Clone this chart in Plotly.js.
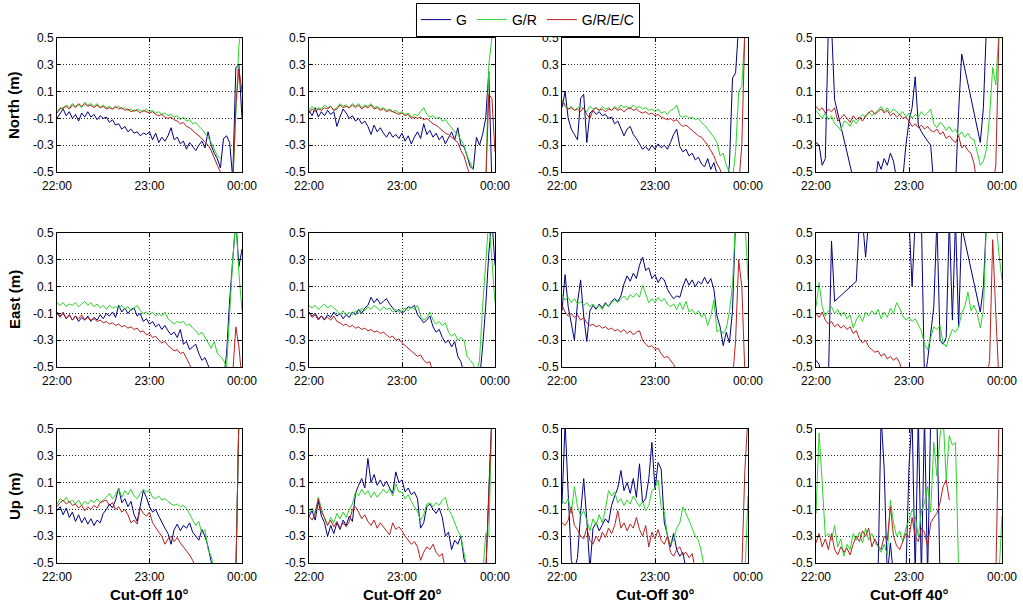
<!DOCTYPE html>
<html><head><meta charset="utf-8">
<script src="https://cdn.plot.ly/plotly-3.0.1.min.js"></script>
<style>html,body{margin:0;padding:0;background:#fff}#chart{width:1023px;height:604px}</style>
</head><body><div id="chart"></div>
<script>
// time in minutes after 22:00
const T = [0,2,4,6,8,10,12,14,16,18,20,22,24,26,28,30,32,34,36,38,40,42,44,46,48,50,52,54,56,58,60,62,64,66,68,70,72,74,76,78,80,82,84,86,88,90,92,94,96,98,100,102,104,106,108,110,112,114,116,118,120];

const SERIES = ['G','G/R','G/R/E/C'];
const COLORS = ['#000080','#2ad42a','#b82020'];
const ROW_TITLES = ['North (m)','East (m)','Up (m)'];
const COL_TITLES = ['Cut-Off 10°','Cut-Off 20°','Cut-Off 30°','Cut-Off 40°'];
const X_TICKS = [0,60,120];
const X_TICK_TEXT = ['22:00','23:00','00:00'];
const Y_TICKS = [-0.5,-0.3,-0.1,0.1,0.3,0.5];
const Y_TICK_TEXT = ['-0.5','-0.3','-0.1','0.1','0.3','0.5'];

// ---------- North ----------
const N10_G = [-0.10,-0.06,-0.03,-0.08,-0.05,-0.10,-0.07,-0.12,-0.06,-0.09,
-0.05,-0.09,-0.07,-0.11,-0.08,-0.10,-0.09,-0.13,-0.11,-0.15,
-0.14,-0.18,-0.16,-0.20,-0.18,-0.21,-0.20,-0.23,-0.21,-0.22,
-0.20,-0.26,-0.21,-0.28,-0.24,-0.27,-0.23,-0.17,-0.26,-0.24,
-0.29,-0.27,-0.33,-0.28,-0.31,-0.34,-0.30,-0.27,-0.32,-0.20,
-0.30,-0.36,-0.40,-0.47,-0.25,-0.23,-0.28,-0.55,0.28,0.30,
-0.10];
const N10_GR = [-0.05,-0.02,-0.03,0.00,-0.02,0.01,-0.01,0.00,-0.02,0.02,
0.00,0.01,-0.01,0.01,-0.02,0.00,-0.02,-0.01,-0.03,-0.02,
-0.01,-0.03,-0.02,-0.04,-0.03,-0.05,-0.03,-0.04,-0.05,-0.03,
-0.05,-0.04,-0.06,-0.05,-0.07,-0.06,-0.08,-0.07,-0.09,-0.08,
-0.11,-0.09,-0.12,-0.11,-0.14,-0.13,-0.16,-0.18,-0.21,-0.24,
-0.28,-0.33,-0.38,-0.40,null,null,null,-0.60,-0.10,0.45,
0.60];
const N10_GREC = [-0.06,-0.03,-0.02,-0.01,-0.03,0.00,-0.02,0.01,-0.01,0.01,
-0.01,0.00,-0.02,0.00,-0.02,-0.01,-0.03,-0.02,-0.03,-0.01,
-0.03,-0.02,-0.04,-0.03,-0.05,-0.04,-0.04,-0.06,-0.04,-0.05,
-0.06,-0.05,-0.07,-0.08,-0.07,-0.09,-0.10,-0.09,-0.11,-0.12,
-0.14,-0.13,-0.16,-0.17,-0.19,-0.21,-0.23,-0.25,-0.28,-0.30,
-0.34,-0.40,-0.45,-0.50,-0.60,-0.60,-0.60,-0.60,0.00,0.27,
0.10];

const N20_G = [-0.04,-0.08,-0.02,-0.09,-0.05,-0.08,-0.04,-0.07,-0.05,-0.16,
-0.09,-0.03,-0.06,-0.10,-0.08,-0.12,-0.10,-0.14,-0.12,-0.16,
-0.22,-0.15,-0.20,-0.17,-0.21,-0.24,-0.20,-0.24,-0.22,-0.25,
-0.21,-0.27,-0.23,-0.29,-0.24,-0.20,-0.25,-0.14,-0.22,-0.19,
-0.24,-0.21,-0.26,-0.23,-0.29,-0.24,-0.20,-0.26,-0.17,-0.30,
-0.31,-0.38,-0.46,-0.48,-0.24,-0.30,-0.22,-0.10,0.25,-0.60,
-0.60];
const N20_GR = [-0.04,-0.01,-0.04,-0.02,-0.03,0.00,-0.02,-0.01,-0.04,-0.02,
0.01,-0.01,0.00,-0.02,0.01,-0.01,0.01,-0.02,0.00,-0.01,
0.01,-0.02,-0.01,-0.03,-0.02,-0.04,-0.03,-0.05,-0.04,-0.06,
-0.05,-0.07,-0.06,-0.09,-0.07,-0.08,-0.05,-0.02,-0.07,-0.09,
-0.08,-0.10,-0.09,-0.12,-0.11,-0.14,-0.17,-0.20,-0.22,-0.26,
-0.30,-0.38,-0.43,-0.48,null,null,null,-0.60,0.30,0.50,
0.60];
const N20_GREC = [-0.06,-0.03,-0.05,-0.03,-0.04,-0.02,-0.03,-0.01,-0.04,-0.03,
0.00,-0.02,-0.01,-0.02,0.00,-0.02,0.00,-0.03,-0.01,-0.02,
0.00,-0.03,-0.02,-0.04,-0.03,-0.05,-0.04,-0.05,-0.06,-0.07,
-0.06,-0.08,-0.07,-0.10,-0.09,-0.10,-0.09,-0.11,-0.10,-0.12,
-0.14,-0.15,-0.17,-0.19,-0.21,-0.22,-0.24,-0.26,-0.28,-0.34,
-0.38,-0.46,-0.52,-0.60,-0.60,-0.60,-0.60,-0.60,0.08,0.05,
-0.35];

const N30_G = [-0.02,0.10,-0.10,-0.18,-0.22,-0.26,0.05,0.08,-0.28,-0.06,
-0.04,-0.07,-0.05,-0.08,-0.07,-0.10,-0.09,-0.14,-0.12,-0.17,
-0.23,-0.18,-0.16,-0.22,-0.25,-0.29,-0.33,-0.31,-0.34,-0.30,
-0.33,-0.29,-0.32,-0.30,-0.33,-0.28,-0.22,-0.18,-0.31,-0.35,
-0.33,-0.38,-0.36,-0.41,-0.39,-0.44,-0.46,-0.40,-0.48,-0.43,
-0.52,-0.60,-0.60,-0.60,-0.45,0.20,0.24,0.60,0.60,0.60,
0.60];
const N30_GR = [0.04,0.00,-0.03,-0.01,-0.04,-0.02,-0.01,-0.03,-0.05,-0.01,
-0.03,-0.02,-0.04,-0.01,-0.03,-0.02,-0.04,-0.01,-0.03,0.00,
-0.02,-0.01,-0.03,0.00,-0.02,-0.01,-0.03,-0.02,-0.04,-0.03,
-0.05,-0.03,-0.06,-0.05,-0.07,-0.04,-0.03,0.00,-0.08,-0.09,
-0.08,-0.10,-0.09,-0.11,-0.10,-0.13,-0.15,-0.18,-0.21,-0.24,
-0.28,-0.38,-0.36,-0.45,-0.50,-0.55,-0.35,0.10,0.14,0.55,
0.60];
const N30_GREC = [0.03,-0.01,-0.03,-0.02,-0.04,-0.03,-0.05,-0.02,-0.07,-0.10,
-0.04,-0.02,-0.04,-0.03,-0.05,-0.03,-0.04,-0.02,-0.04,-0.03,
-0.05,-0.03,-0.02,-0.04,-0.03,-0.05,-0.06,-0.05,-0.07,-0.06,
-0.08,-0.07,-0.09,-0.10,-0.11,-0.10,-0.12,-0.11,-0.14,-0.16,
-0.15,-0.17,-0.19,-0.21,-0.23,-0.24,-0.27,-0.30,-0.34,-0.38,
-0.44,-0.48,-0.60,-0.60,-0.60,-0.60,-0.60,-0.60,-0.30,0.55,
0.60];

const N40_G = [-0.28,-0.30,-0.45,-0.40,0.60,0.60,0.04,null,null,null,
null,null,-0.55,-0.60,-0.60,-0.60,-0.60,-0.60,-0.60,-0.60,
-0.42,-0.48,-0.40,-0.45,-0.36,-0.42,-0.55,-0.60,-0.55,-0.30,
-0.12,-0.02,0.21,-0.15,-0.20,-0.24,-0.27,-0.30,-0.60,-0.60,
-0.60,-0.60,-0.60,-0.60,-0.60,-0.60,-0.05,0.38,null,null,
null,null,null,-0.28,-0.02,0.60,null,null,null,null,
null];
const N40_GR = [-0.04,-0.07,-0.10,-0.06,-0.11,-0.08,-0.14,-0.16,-0.19,-0.12,
-0.13,-0.16,-0.11,-0.14,-0.10,-0.07,-0.09,-0.05,-0.08,-0.06,
-0.04,-0.01,-0.05,-0.02,-0.06,-0.03,-0.05,-0.07,-0.05,-0.09,
-0.06,-0.10,-0.07,-0.09,-0.05,-0.08,-0.06,-0.03,-0.14,-0.17,
-0.13,-0.15,-0.19,-0.16,-0.20,-0.18,-0.23,-0.20,-0.24,-0.21,
-0.25,-0.26,-0.35,-0.45,-0.42,-0.33,-0.08,0.28,0.15,0.55,
0.60];
const N40_GREC = [-0.01,-0.04,-0.02,-0.06,-0.03,-0.05,-0.02,-0.12,-0.10,-0.07,
-0.10,-0.13,-0.08,-0.11,-0.09,-0.12,-0.08,-0.06,-0.04,-0.07,
-0.05,-0.03,-0.06,-0.04,-0.08,-0.06,-0.09,-0.07,-0.10,-0.09,
-0.12,-0.16,-0.14,-0.17,-0.15,-0.18,-0.16,-0.19,-0.20,-0.18,
-0.22,-0.20,-0.25,-0.23,-0.26,-0.28,-0.23,-0.32,-0.30,-0.34,
-0.36,-0.44,-0.60,-0.60,-0.60,-0.60,-0.60,-0.60,-0.45,0.50,
0.60];

// ---------- East ----------
const E10_G = [-0.09,-0.12,-0.10,-0.14,-0.11,-0.15,-0.12,-0.16,-0.13,-0.15,
-0.12,-0.16,-0.13,-0.15,-0.11,-0.14,-0.10,-0.12,-0.09,-0.13,
-0.04,-0.09,-0.06,-0.10,-0.07,-0.06,-0.12,-0.10,-0.16,-0.14,
-0.18,-0.16,-0.20,-0.18,-0.22,-0.19,-0.23,-0.26,-0.24,-0.28,
-0.22,-0.33,-0.31,-0.37,-0.35,-0.33,-0.40,-0.45,-0.43,-0.48,
-0.55,-0.60,-0.60,-0.60,-0.60,-0.40,0.00,0.30,0.60,0.25,
0.38];
const E10_GR = [-0.02,-0.04,-0.02,-0.05,-0.03,-0.04,-0.02,-0.05,-0.03,-0.01,
-0.04,-0.02,-0.05,-0.03,-0.06,-0.04,-0.07,-0.04,-0.06,-0.05,
-0.06,-0.04,-0.07,-0.05,-0.08,-0.06,-0.04,-0.08,-0.10,-0.09,
-0.11,-0.09,-0.12,-0.10,-0.12,-0.09,-0.14,-0.16,-0.18,-0.16,
-0.17,-0.16,-0.19,-0.18,-0.21,-0.23,-0.26,-0.24,-0.28,-0.32,
-0.36,-0.31,-0.40,-0.42,-0.45,-0.50,-0.05,0.30,0.60,0.20,
-0.08];
const E10_GREC = [-0.10,-0.13,-0.09,-0.14,-0.11,-0.15,-0.12,-0.14,-0.11,-0.15,
-0.13,-0.15,-0.14,-0.16,-0.15,-0.17,-0.16,-0.18,-0.17,-0.19,
-0.18,-0.20,-0.19,-0.21,-0.20,-0.22,-0.21,-0.24,-0.23,-0.26,
-0.25,-0.28,-0.27,-0.30,-0.32,-0.31,-0.34,-0.36,-0.38,-0.37,
-0.40,-0.39,-0.43,-0.48,-0.55,-0.60,-0.60,-0.60,-0.60,-0.60,
-0.60,-0.60,-0.60,-0.60,-0.60,-0.60,-0.60,-0.55,-0.20,-0.35,
-0.60];

const E20_G = [-0.09,-0.12,-0.10,-0.14,-0.12,-0.15,-0.11,-0.13,-0.09,-0.12,
-0.10,-0.14,-0.11,-0.13,-0.09,-0.11,-0.07,-0.10,-0.06,-0.04,
0.02,-0.02,0.01,-0.03,-0.01,0.01,-0.03,-0.06,-0.09,-0.07,
-0.10,-0.08,-0.05,-0.06,-0.04,-0.11,-0.14,-0.17,-0.15,-0.12,
-0.20,-0.24,-0.22,-0.28,-0.32,-0.30,-0.35,-0.31,-0.42,-0.46,
-0.55,-0.60,-0.60,-0.60,-0.60,-0.60,-0.35,-0.05,0.35,0.60,
0.26];
const E20_GR = [-0.04,-0.06,-0.04,-0.07,-0.05,-0.03,-0.06,-0.04,-0.06,-0.08,
-0.11,-0.08,-0.12,-0.09,-0.11,-0.08,-0.10,-0.06,-0.08,-0.05,
-0.07,-0.04,-0.06,-0.08,-0.05,-0.07,-0.06,-0.09,-0.07,-0.09,
-0.08,-0.06,-0.08,-0.05,-0.07,-0.04,-0.12,-0.15,-0.13,-0.09,
-0.15,-0.18,-0.16,-0.19,-0.17,-0.24,-0.27,-0.25,-0.30,-0.28,
-0.30,-0.42,-0.45,-0.48,-0.55,-0.45,-0.05,0.30,0.60,0.30,
-0.02];
const E20_GREC = [-0.09,-0.13,-0.11,-0.15,-0.12,-0.14,-0.13,-0.15,-0.12,-0.16,
-0.17,-0.19,-0.18,-0.20,-0.19,-0.21,-0.20,-0.22,-0.21,-0.23,
-0.22,-0.24,-0.23,-0.25,-0.24,-0.26,-0.28,-0.27,-0.30,-0.29,
-0.32,-0.34,-0.36,-0.38,-0.40,-0.42,-0.41,-0.45,-0.47,-0.46,
-0.55,-0.60,-0.60,-0.60,-0.60,-0.60,-0.60,-0.60,-0.60,-0.60,
-0.60,-0.60,-0.60,-0.60,-0.60,-0.60,-0.60,-0.60,-0.60,-0.60,
-0.60];

const E30_G = [-0.08,0.19,-0.05,-0.17,-0.30,-0.02,0.15,-0.12,-0.31,-0.08,
-0.04,-0.07,-0.03,-0.06,-0.02,-0.05,-0.01,0.01,-0.01,0.03,
0.12,0.18,0.14,0.20,0.16,0.26,0.32,0.22,0.24,0.16,
0.19,0.13,0.17,0.15,0.08,0.04,0.01,0.03,0.02,0.10,
0.16,0.11,0.15,0.10,0.14,0.12,0.17,0.12,0.16,0.08,
-0.12,-0.20,-0.34,-0.24,-0.32,-0.08,0.60,0.60,0.60,0.60,
0.60];
const E30_GR = [0.04,0.00,0.02,-0.02,0.01,-0.03,-0.01,-0.04,-0.02,-0.05,
-0.03,-0.06,-0.04,-0.07,-0.03,-0.05,-0.02,0.00,-0.02,0.01,
0.03,0.00,0.04,0.02,0.05,0.02,0.11,0.04,-0.02,0.01,
-0.02,0.02,-0.01,0.01,-0.03,-0.05,-0.03,-0.07,-0.02,-0.07,
-0.01,-0.09,-0.07,-0.11,-0.08,-0.13,-0.10,-0.19,-0.12,0.00,
-0.24,-0.22,-0.25,-0.21,-0.09,0.11,0.60,0.60,0.60,0.60,
0.15];
const E30_GREC = [-0.04,-0.09,-0.12,-0.10,-0.13,-0.11,-0.15,-0.13,-0.17,-0.19,
-0.18,-0.20,-0.19,-0.21,-0.20,-0.22,-0.21,-0.23,-0.22,-0.24,
-0.22,-0.25,-0.23,-0.26,-0.24,-0.23,-0.30,-0.33,-0.35,-0.34,
-0.37,-0.36,-0.40,-0.43,-0.42,-0.45,-0.48,-0.55,-0.60,-0.60,
-0.60,-0.60,-0.60,-0.60,-0.60,-0.60,-0.60,-0.60,-0.60,-0.60,
-0.60,-0.60,-0.60,-0.60,-0.60,-0.60,-0.30,0.30,0.10,-0.55,
-0.60];

const E40_G = [-0.45,-0.48,-0.60,-0.60,-0.60,0.44,-0.01,null,null,null,
null,null,null,0.14,0.60,0.60,0.32,0.60,0.60,0.60,
0.60,0.60,0.60,0.60,0.60,0.60,0.60,0.60,0.60,0.60,
0.60,0.10,0.60,0.60,0.60,-0.60,-0.45,-0.25,-0.05,0.60,
-0.30,-0.33,-0.28,0.60,-0.15,0.60,-0.20,0.55,null,null,
null,null,null,-0.09,0.10,0.60,null,null,null,null,
null];
const E40_GR = [-0.05,0.13,-0.05,-0.12,-0.08,-0.05,-0.10,-0.07,-0.12,-0.09,
-0.14,-0.11,-0.21,-0.15,-0.11,-0.16,-0.09,-0.12,-0.08,-0.11,
-0.07,-0.14,-0.09,-0.13,-0.06,-0.10,-0.02,-0.06,-0.12,-0.15,
-0.13,-0.16,-0.14,-0.18,-0.23,-0.33,-0.37,-0.28,-0.20,-0.22,
-0.19,-0.32,-0.35,-0.28,-0.22,-0.24,-0.20,-0.10,-0.05,0.06,
-0.08,-0.04,-0.10,-0.21,-0.08,0.60,0.60,0.60,0.60,0.35,
0.15];
const E40_GREC = [-0.10,-0.13,-0.09,-0.15,-0.18,-0.16,-0.20,-0.18,-0.21,-0.19,
-0.22,-0.20,-0.25,-0.23,-0.29,-0.32,-0.30,-0.35,-0.37,-0.39,
-0.38,-0.42,-0.40,-0.44,-0.42,-0.45,-0.43,-0.47,-0.55,-0.60,
-0.60,-0.60,-0.60,-0.60,-0.60,-0.60,-0.60,-0.60,-0.60,-0.60,
-0.60,-0.60,-0.60,-0.60,-0.60,-0.60,-0.60,-0.60,-0.60,-0.60,
-0.60,-0.60,-0.60,-0.60,-0.60,-0.60,-0.45,0.45,-0.10,-0.60,
-0.60];

// ---------- Up ----------
const U10_G = [-0.11,-0.08,-0.14,-0.09,-0.16,-0.12,-0.19,-0.14,-0.20,-0.16,
-0.21,-0.17,-0.22,-0.18,-0.20,-0.13,-0.10,-0.06,-0.09,-0.03,
0.06,-0.05,-0.02,-0.08,-0.04,-0.14,-0.19,-0.08,0.04,-0.01,
-0.08,-0.12,-0.10,-0.15,-0.20,-0.24,-0.28,-0.36,-0.25,-0.21,
-0.26,-0.22,-0.24,-0.20,-0.27,-0.30,-0.33,-0.25,-0.30,-0.38,
-0.50,-0.60,-0.60,-0.60,-0.60,-0.60,-0.60,-0.60,-0.60,0.60,
0.60];
const U10_GR = [-0.06,-0.02,-0.04,-0.01,-0.05,-0.03,-0.06,-0.03,-0.07,-0.04,
-0.06,-0.03,-0.05,-0.02,-0.05,-0.03,-0.01,0.02,-0.02,0.01,
0.06,-0.01,0.04,0.01,0.05,0.00,-0.02,0.02,0.05,0.03,
0.04,-0.01,-0.02,0.00,-0.03,-0.02,-0.04,-0.06,-0.07,-0.06,
-0.08,-0.07,-0.09,-0.14,-0.18,-0.22,-0.19,-0.28,-0.25,-0.40,
-0.45,-0.55,-0.60,-0.60,-0.60,-0.60,-0.60,-0.60,-0.60,0.60,
0.60];
const U10_GREC = [-0.08,-0.05,-0.03,-0.06,-0.04,-0.07,-0.06,-0.09,-0.07,-0.11,
-0.08,-0.10,-0.07,-0.09,-0.05,-0.04,-0.03,-0.07,-0.05,-0.10,
-0.08,-0.12,-0.10,-0.14,-0.20,-0.18,-0.21,-0.09,-0.13,-0.15,
-0.12,-0.20,-0.24,-0.27,-0.30,-0.36,-0.32,-0.30,-0.34,-0.31,
-0.35,-0.38,-0.41,-0.44,-0.48,-0.55,-0.60,-0.60,-0.60,-0.60,
-0.60,-0.60,-0.60,-0.60,-0.60,-0.60,-0.60,-0.60,-0.60,0.60,
0.60];

const U20_G = [-0.15,-0.11,-0.18,-0.04,-0.15,-0.20,-0.30,-0.22,-0.28,-0.20,
-0.25,-0.18,-0.22,-0.15,-0.19,0.02,0.08,0.13,0.06,0.28,
0.10,0.16,0.08,0.12,0.07,0.11,0.06,0.02,0.18,0.10,
0.12,0.03,0.06,0.01,0.03,-0.02,-0.24,-0.20,-0.08,-0.06,
-0.10,-0.13,-0.09,-0.16,-0.30,-0.27,-0.40,-0.33,-0.36,-0.30,
-0.47,-0.55,-0.60,-0.60,-0.60,-0.60,-0.60,-0.60,0.04,0.60,
0.60];
const U20_GR = [-0.13,-0.09,-0.13,-0.01,-0.09,-0.17,-0.22,-0.16,-0.20,-0.13,
-0.17,-0.12,-0.16,-0.10,-0.06,0.03,0.00,0.05,0.01,0.04,
-0.01,0.03,-0.01,0.02,0.05,0.02,0.05,0.00,0.09,0.03,
0.03,-0.02,0.01,-0.04,-0.08,-0.12,-0.18,-0.14,-0.06,-0.05,
-0.08,-0.05,-0.07,-0.03,-0.01,-0.10,-0.14,-0.20,-0.26,-0.30,
-0.45,-0.55,-0.60,-0.60,-0.60,-0.60,-0.60,-0.28,-0.30,0.60,
0.60];
const U20_GREC = [-0.15,-0.18,-0.13,-0.02,-0.12,-0.16,-0.22,-0.18,-0.23,-0.19,
-0.24,-0.20,-0.23,-0.19,-0.10,-0.08,-0.12,-0.17,-0.14,-0.19,
-0.22,-0.18,-0.24,-0.20,-0.23,-0.26,-0.29,-0.20,-0.25,-0.23,
-0.26,-0.30,-0.33,-0.36,-0.34,-0.38,-0.48,-0.42,-0.38,-0.40,
-0.36,-0.42,-0.45,-0.43,-0.55,-0.60,-0.60,-0.60,-0.60,-0.60,
-0.60,-0.60,-0.60,-0.60,-0.60,-0.60,-0.60,-0.60,0.00,0.60,
0.60];

const U30_G = [-0.06,0.55,0.02,-0.48,-0.55,-0.46,-0.13,0.13,-0.18,-0.55,
-0.24,-0.20,-0.26,-0.22,-0.17,-0.20,-0.07,0.00,0.06,0.19,
0.04,0.10,0.02,0.13,-0.01,0.24,-0.05,-0.02,0.13,0.40,
0.05,0.25,0.20,-0.20,-0.30,-0.38,-0.28,-0.40,-0.45,-0.42,
-0.55,-0.60,-0.60,-0.60,-0.60,-0.60,-0.60,-0.60,-0.60,-0.60,
-0.60,-0.60,-0.60,-0.60,-0.60,-0.60,-0.60,-0.60,-0.60,-0.60,
-0.60];
const U30_GR = [-0.03,-0.06,-0.02,-0.13,0.07,-0.08,-0.15,-0.11,-0.18,-0.26,
-0.17,-0.22,-0.14,-0.20,-0.10,0.04,0.00,0.03,-0.05,-0.02,
-0.07,-0.03,-0.06,0.00,-0.04,-0.08,-0.04,-0.11,-0.07,0.04,
0.06,0.12,-0.08,-0.12,-0.30,-0.36,-0.33,-0.24,-0.20,-0.08,
-0.13,-0.18,-0.24,-0.30,-0.33,-0.42,-0.55,-0.60,-0.60,-0.60,
-0.60,-0.60,-0.60,-0.60,-0.60,-0.60,-0.60,-0.60,-0.60,-0.60,
0.00];
const U30_GREC = [-0.20,-0.22,-0.18,-0.08,-0.22,-0.25,-0.30,-0.32,-0.24,-0.33,
-0.36,-0.30,-0.34,-0.27,-0.31,-0.24,-0.28,-0.22,-0.11,-0.24,
-0.20,-0.26,-0.21,-0.24,-0.16,-0.25,-0.30,-0.22,-0.38,-0.27,
-0.32,-0.25,-0.33,-0.36,-0.30,-0.42,-0.45,-0.40,-0.38,-0.44,
-0.42,-0.46,-0.43,-0.55,-0.60,-0.60,-0.60,-0.60,-0.60,-0.60,
-0.60,-0.60,-0.60,-0.60,-0.60,-0.60,-0.60,-0.60,-0.55,0.20,
0.60];

const U40_G = [null,null,null,null,null,null,null,null,null,null,
null,null,null,null,null,null,null,null,null,null,
-0.60,0.60,0.20,-0.60,-0.35,-0.60,-0.60,-0.60,-0.60,-0.60,
0.22,0.60,-0.60,0.60,-0.60,0.60,-0.60,0.60,0.55,0.60,
-0.60,null,null,null,null,null,null,null,null,null,
null,null,null,null,null,null,null,null,null,null,
null];
const U40_GR = [-0.13,0.47,0.10,-0.30,-0.28,-0.33,-0.22,-0.38,-0.32,-0.45,
-0.36,-0.40,-0.28,-0.33,-0.27,-0.35,-0.24,-0.33,-0.28,-0.34,
-0.38,-0.42,-0.36,-0.44,-0.03,-0.20,-0.30,-0.26,-0.34,-0.24,
-0.18,-0.10,-0.15,-0.30,-0.12,-0.05,0.07,-0.12,0.40,0.15,
0.45,0.60,0.12,0.45,0.38,0.40,-0.55,-0.60,-0.60,-0.60,
-0.60,-0.60,-0.60,-0.60,-0.60,-0.60,-0.60,-0.60,-0.60,-0.60,
-0.15];
const U40_GREC = [-0.35,-0.28,-0.38,-0.32,-0.40,-0.28,-0.40,-0.44,-0.38,-0.42,
-0.39,-0.44,-0.36,-0.30,-0.34,-0.26,-0.30,-0.24,-0.38,-0.32,
-0.37,-0.40,-0.30,-0.33,-0.08,-0.30,-0.37,-0.40,-0.34,-0.28,
-0.31,-0.16,-0.30,-0.34,-0.24,-0.27,-0.38,-0.20,-0.16,-0.13,
-0.05,0.07,0.12,-0.03,null,null,null,null,null,null,
null,null,null,null,null,null,null,null,-0.60,0.55,
0.60];

const PANELS = [
  [[N10_G,N10_GR,N10_GREC],[N20_G,N20_GR,N20_GREC],[N30_G,N30_GR,N30_GREC],[N40_G,N40_GR,N40_GREC]],
  [[E10_G,E10_GR,E10_GREC],[E20_G,E20_GR,E20_GREC],[E30_G,E30_GR,E30_GREC],[E40_G,E40_GR,E40_GREC]],
  [[U10_G,U10_GR,U10_GREC],[U20_G,U20_GR,U20_GREC],[U30_G,U30_GR,U30_GREC],[U40_G,U40_GR,U40_GREC]]
];
// series whose missing samples are bridged by straight segments
const BRIDGED = [N40_G, E40_G];

PANELS.forEach(row => row.forEach(p => p.forEach(s => { if (s.length !== T.length) throw new Error('bad length ' + s.length); })));

// ---------- layout ----------
const W = 1023, H = 604;
const COL_PX = [[57,242],[309,495],[562,748],[816,1002]];
const ROW_PX = [[38,172],[233,367],[429,563]];
const FONT = 'Arial, "Liberation Sans", sans-serif';

const traces = [];
const layout = {
  width: W, height: H,
  margin: {l:0, r:0, t:0, b:0},
  paper_bgcolor: '#fff', plot_bgcolor: '#fff',
  showlegend: true,
  hovermode: false,
  legend: {orientation:'h', x: 528/W, xanchor:'center', y: 1 - 3/H, yanchor:'top',
           bordercolor:'#000', borderwidth:1, bgcolor:'#fff',
           font:{family:FONT, size:14, color:'#000'}, itemwidth:30},
  annotations: []
};

const axisCommon = {
  showline:true, mirror:'ticks', linecolor:'#000', linewidth:1,
  ticks:'inside', ticklen:4, tickcolor:'#000', tickwidth:1,
  showgrid:true, gridcolor:'#222', gridwidth:1, griddash:'1px,2px',
  zeroline:false, fixedrange:true,
  tickfont:{family:FONT, size:12, color:'#000'}
};

for (let r = 0; r < 3; r++) {
  for (let c = 0; c < 4; c++) {
    const n = r*4 + c + 1;
    const sfx = n === 1 ? '' : String(n);
    layout['xaxis' + sfx] = Object.assign({}, axisCommon, {
      domain:[COL_PX[c][0]/W, COL_PX[c][1]/W], range:[0,120],
      tickvals:X_TICKS, ticktext:X_TICK_TEXT, anchor:'y' + sfx,
      ticklabelstandoff: 3
    });
    layout['yaxis' + sfx] = Object.assign({}, axisCommon, {
      domain:[1 - ROW_PX[r][1]/H, 1 - ROW_PX[r][0]/H], range:[-0.5,0.5],
      tickvals:Y_TICKS, ticktext:Y_TICK_TEXT, anchor:'x' + sfx
    });
    PANELS[r][c].forEach((vals, k) => {
      traces.push({
        type:'scatter', mode:'lines', x:T, y:vals,
        xaxis:'x' + sfx, yaxis:'y' + sfx,
        name:SERIES[k], legendgroup:SERIES[k], showlegend: n === 1,
        connectgaps: BRIDGED.includes(vals),
        line:{color:COLORS[k], width:1}
      });
    });
  }
}

ROW_TITLES.forEach((t, r) => {
  layout.annotations.push({text:'<b>' + t + '</b>', xref:'paper', yref:'paper',
    x: 14/W, y: 1 - (ROW_PX[r][0] + ROW_PX[r][1])/2/H, textangle:-90, showarrow:false,
    xanchor:'center', yanchor:'middle', font:{family:FONT, size:15, color:'#000'}});
});
COL_TITLES.forEach((t, c) => {
  layout.annotations.push({text:'<b>' + t + '</b>', xref:'paper', yref:'paper',
    x: (COL_PX[c][0] + COL_PX[c][1])/2/W, y: 1 - 594/H, showarrow:false,
    xanchor:'center', yanchor:'middle', font:{family:FONT, size:15, color:'#000'}});
});

Plotly.newPlot('chart', traces, layout, {displayModeBar:false, staticPlot:true});
</script>
</body></html>
